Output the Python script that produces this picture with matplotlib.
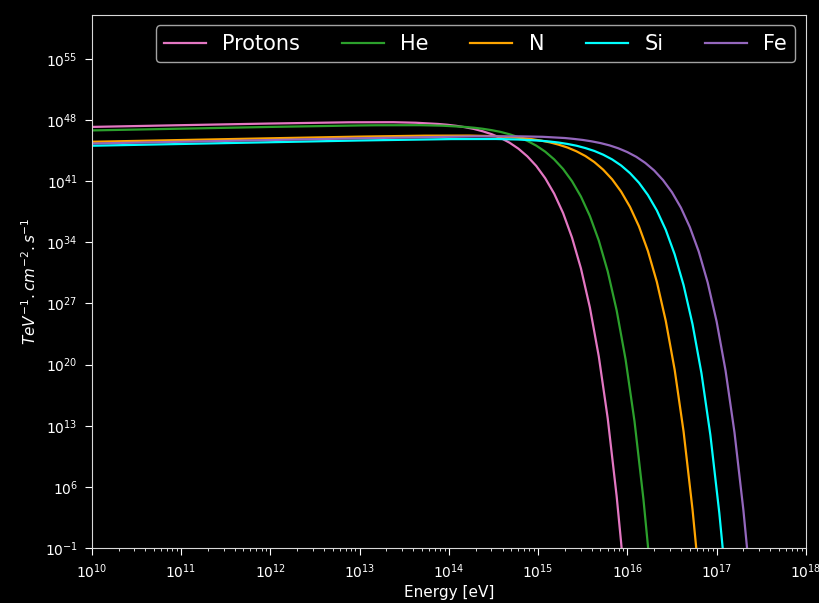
import matplotlib
matplotlib.use('Agg')
import matplotlib.pyplot as plt
import numpy as np

# log10(E / eV) and log10(flux)
p_logE = [10, 11, 12, 12.88, 13.38, 13.63, 13.88, 13.98, 14.08, 14.18, 14.28, 14.38, 14.48, 14.58,
          14.68, 14.78, 14.88, 14.98, 15.08, 15.18, 15.28, 15.38, 15.48, 15.58, 15.68, 15.78, 15.88,
          15.93, 15.98]
p_logF = [47.2, 47.4, 47.59, 47.73, 47.74, 47.68, 47.54, 47.45, 47.33, 47.17, 46.97, 46.70, 46.37, 45.94,
          45.40, 44.71, 43.83, 42.73, 41.33, 39.57, 37.35, 34.54, 31.01, 26.55, 20.94, 13.86, 4.95,
          -0.34, -6.28]

he_logE = [10, 11, 12, 13, 13.18, 13.68, 13.93, 14.18, 14.28, 14.38, 14.48, 14.58, 14.68, 14.78, 14.88,
           14.98, 15.08, 15.18, 15.28, 15.38, 15.48, 15.58, 15.68, 15.78, 15.88, 15.98, 16.08, 16.18,
           16.23, 16.28]
he_logF = [46.8, 47.0, 47.2, 47.37, 47.39, 47.40, 47.34, 47.20, 47.11, 46.99, 46.83, 46.63, 46.36, 46.03,
           45.60, 45.06, 44.37, 43.49, 42.39, 40.99, 39.23, 37.01, 34.20, 30.67, 26.21, 20.60, 13.52,
           4.61, -0.68, -6.62]

n_logE = [10, 11, 12, 13, 13.73, 14.23, 14.48, 14.73, 14.83, 14.93, 15.03, 15.13, 15.23, 15.33, 15.43,
          15.53, 15.63, 15.73, 15.83, 15.93, 16.03, 16.13, 16.23, 16.33, 16.43, 16.53, 16.63, 16.73,
          16.78, 16.83]
n_logF = [45.5, 45.7, 45.9, 46.09, 46.20, 46.21, 46.15, 46.01, 45.92, 45.80, 45.64, 45.44, 45.17, 44.84,
          44.41, 43.87, 43.18, 42.30, 41.20, 39.80, 38.04, 35.82, 33.01, 29.48, 25.02, 19.41, 12.33,
          3.42, -1.87, -7.81]

si_logE = [10, 11, 12, 13, 14.03, 14.53, 14.78, 15.03, 15.13, 15.23, 15.33, 15.43, 15.53, 15.63, 15.73,
           15.83, 15.93, 16.03, 16.13, 16.23, 16.33, 16.43, 16.53, 16.63, 16.73, 16.83, 16.93, 17.03,
           17.08, 17.13]
si_logF = [45.05, 45.25, 45.45, 45.65, 45.81, 45.82, 45.76, 45.62, 45.53, 45.41, 45.25, 45.05, 44.78,
           44.45, 44.02, 43.48, 42.79, 41.91, 40.81, 39.41, 37.65, 35.43, 32.62, 29.09, 24.63, 19.02,
           11.94, 3.03, -2.26, -8.20]

fe_logE = [10, 11, 12, 13, 14.3, 14.8, 15.05, 15.3, 15.4, 15.5, 15.6, 15.7, 15.8, 15.9, 16.0, 16.1,
           16.2, 16.3, 16.4, 16.5, 16.6, 16.7, 16.8, 16.9, 17.0, 17.1, 17.2, 17.3, 17.35, 17.4]
fe_logF = [45.3, 45.5, 45.7, 45.9, 46.12, 46.12, 46.07, 45.93, 45.83, 45.71, 45.55, 45.35, 45.09, 44.75,
           44.32, 43.78, 43.09, 42.22, 41.11, 39.72, 37.96, 35.73, 32.93, 29.39, 24.93, 19.32, 12.24,
           3.33, -1.96, -7.89]

series = [
    ('Protons', p_logE, p_logF, '#e377c2'),
    ('He', he_logE, he_logF, '#2ca02c'),
    ('N', n_logE, n_logF, 'orange'),
    ('Si', si_logE, si_logF, 'cyan'),
    ('Fe', fe_logE, fe_logF, '#9467bd'),
]

plt.style.use('dark_background')
fig = plt.figure(figsize=(8.19, 6.03), dpi=100)
ax = fig.add_axes([0.112, 0.091, 0.872, 0.884])

for name, lx, ly, col in series:
    ax.plot(10.0 ** np.array(lx), 10.0 ** np.array(ly), color=col, linewidth=1.6, label=name)

ax.set_xscale('log')
ax.set_yscale('log')
ax.set_xlim(1e10, 1e18)
ax.set_ylim(1e-1, 1e60)
ax.set_yticks([10.0 ** k for k in range(-1, 56, 7)])
ax.yaxis.set_minor_locator(matplotlib.ticker.NullLocator())
ax.tick_params(which='major', length=5, pad=5)
for sp in ax.spines.values():
    sp.set_color('#d8d8d8')
ax.set_xlabel('Energy [eV]', fontsize=11, labelpad=3)
ax.set_ylabel(r'$TeV^{-1}.cm^{-2}.s^{-1}$', fontsize=11)
ax.legend(ncol=5, loc='upper right', fontsize=15)

fig.savefig('out.png', dpi=100)
